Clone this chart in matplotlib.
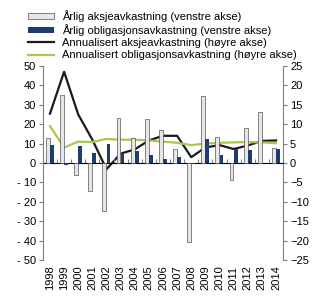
import numpy as np
import matplotlib
matplotlib.use("Agg")
import matplotlib.pyplot as plt

plt.rcParams["font.family"] = ["Liberation Sans", "DejaVu Sans"]
plt.rcParams["font.size"] = 8

# ---------------------------------------------------------------------------
# Data
# ---------------------------------------------------------------------------
years = [str(y) for y in range(1998, 2015)]
aksje_aarlig = [13, 35, -6, -14.5, -24.5, 23, 13, 22.5, 17, 7, -40.5,
                34.5, 13.5, -9, 18, 26.5, 7.5]          # venstre akse
oblig_aarlig = [9.5, -1, 8.5, 5, 10, 5, 6, 4, 2, 3, -0.4,
                12.6, 4.2, 7.2, 6.8, 0.2, 7]             # venstre akse
aksje_annual = [12.7, 23.5, 12.5, 6, -1.6, 2.4, 3.5, 5.8, 7, 7, 1.5,
                4, 4.6, 3.6, 4.5, 5.7, 5.8]              # høyre akse
oblig_annual = [9.5, 4, 5.5, 5.4, 6.2, 6, 6, 5.8, 5.5, 5.2, 4.6,
                5, 5.2, 5.3, 5.4, 5.3, 5.1]              # høyre akse

labels = [
    "Årlig aksjeavkastning (venstre akse)",
    "Årlig obligasjonsavkastning (venstre akse)",
    "Annualisert aksjeavkastning (høyre akse)",
    "Annualisert obligasjonsavkastning (høyre akse)",
]

GREY_FILL = "#e6e6e6"
GREY_EDGE = "#555555"
BLUE = "#1d3d70"
GREEN = "#a5c94c"
BLACK = "#1a1a1a"
AXIS = "#7f7f7f"

x = np.arange(len(years))

# ---------------------------------------------------------------------------
# Plot: lines on host axes (right scale), bars on twin (left scale, on top)
# ---------------------------------------------------------------------------
fig = plt.figure(figsize=(3.25, 3.01), dpi=100)
ax = fig.add_axes([0.132, 0.136, 0.739, 0.645])
ax2 = ax.twinx()

l1, = ax.plot(x, aksje_annual, color=BLACK, lw=1.6, zorder=2)
l2, = ax.plot(x, oblig_annual, color=GREEN, lw=1.6, zorder=2)

b1 = ax2.bar(x - 0.15, aksje_aarlig, width=0.28, color=GREY_FILL,
             edgecolor=GREY_EDGE, linewidth=0.5)
b2 = ax2.bar(x + 0.14, oblig_aarlig, width=0.27, color=BLUE, linewidth=0)

ax.set_xlim(-0.5, len(years) - 0.5)
ax.set_ylim(-25, 25)
ax2.set_ylim(-50, 50)
ax.set_yticks(np.arange(-25, 26, 5))
ax2.set_yticks(np.arange(-50, 51, 10))
ax2.set_yticklabels([str(v) if v >= 0 else "- " + str(-v) for v in range(-50, 51, 10)])

ax.yaxis.tick_right()
ax2.yaxis.tick_left()
ax.yaxis.set_label_position("right")

for a in (ax, ax2):
    for s in a.spines.values():
        s.set_visible(False)
ax2.spines["left"].set_visible(True)
ax2.spines["left"].set_color(AXIS)
ax.spines["right"].set_visible(True)
ax.spines["right"].set_color(AXIS)

ax.tick_params(axis="y", direction="out", length=3, color=AXIS, right=True, left=False,
               labelright=True, labelleft=False, pad=2)
ax2.tick_params(axis="y", direction="out", length=3, color=AXIS, left=True, right=False,
                labelleft=True, labelright=False, pad=2)

# year labels at bottom, no tick marks
ax.set_xticks(x)
ax.set_xticklabels(years, rotation=90)
ax.tick_params(axis="x", length=0, pad=4)

# zero line with tick marks between categories
zero = ax2.secondary_xaxis(0.5)
zero.set_xticks(np.arange(-0.5, len(years), 1.0))
zero.set_xticklabels([])
zero.tick_params(axis="x", direction="out", length=3, color=AXIS)
zero.spines["bottom"].set_color(AXIS)

fig.legend([b1, b2, l1, l2], labels, loc="upper left",
           bbox_to_anchor=(0.065, 0.99), frameon=False, handlelength=2.4,
           handleheight=0.45, handletextpad=0.7, labelspacing=0.2,
           borderaxespad=0.2, fontsize=8)

fig.savefig("out.png", dpi=100)
plt.close(fig)
